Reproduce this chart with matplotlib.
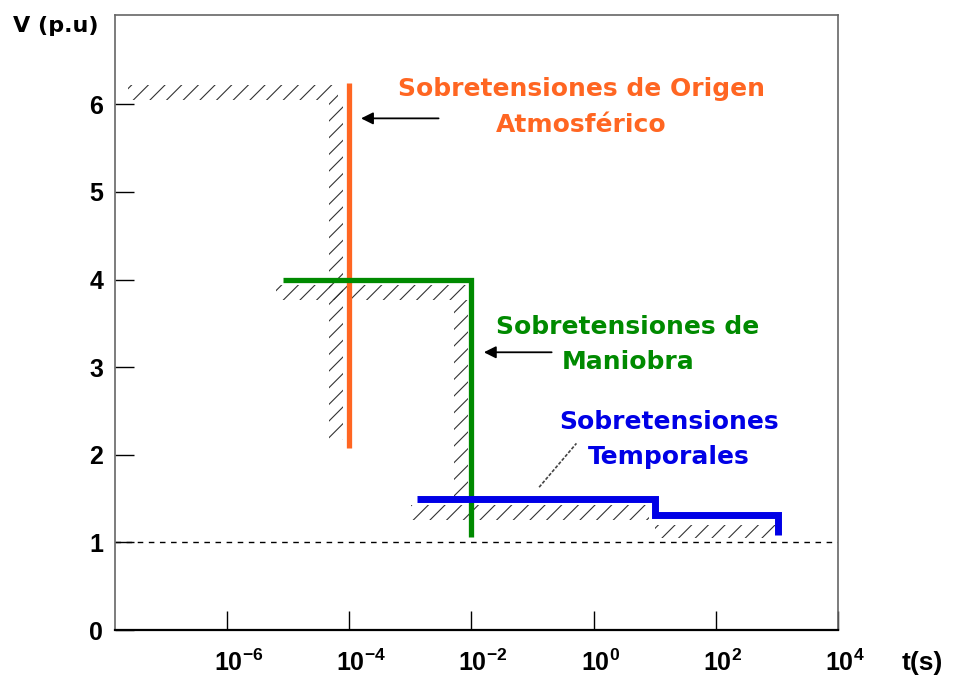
import numpy as np
import matplotlib
matplotlib.use('Agg')
import matplotlib.pyplot as plt
from matplotlib.transforms import ScaledTranslation

# overvoltage envelopes (t in s, V in p.u.)
atm_t = [1e-4, 1e-4]
atm_v = [2.08, 6.24]
man_t = [10**-5.08, 1e-2, 1e-2]
man_v = [4.0, 4.0, 1.06]
tem_t = [10**-2.89, 10**1.0, 10**1.0, 10**3.02, 10**3.02]
tem_v = [1.5, 1.5, 1.31, 1.31, 1.08]

# hatched withstand strips: (log t0, log t1, v0, v1)
hatch_strips = [
    (-7.62, -4.18, 6.05, 6.22),
    (-4.33, -4.10, 2.17, 6.05),
    (-5.19, -2.08, 3.77, 3.94),
    (-2.28, -2.05, 1.48, 3.77),
    (-2.98, 0.90, 1.26, 1.43),
    (1.00, 2.97, 1.05, 1.20),
]

xtick_exp = [-6, -4, -2, 0, 2, 4]
ytick_vals = [0, 1, 2, 3, 4, 5, 6]

orange = '#FF6622'
green = '#008A00'
blue = '#0000E6'

plt.rcParams['font.family'] = ['Liberation Sans', 'DejaVu Sans']
plt.rcParams['mathtext.fontset'] = 'custom'
plt.rcParams['mathtext.rm'] = 'Liberation Sans:bold'
plt.rcParams['mathtext.bf'] = 'Liberation Sans:bold'
plt.rcParams['hatch.linewidth'] = 0.8

fig = plt.figure(figsize=(9.54, 6.78), dpi=100)
ax = fig.add_axes([115/954, 1 - 630/678, (838 - 115)/954, (630 - 15)/678])
ax.set_xscale('log')
ax.set_xlim(10**-7.83, 1e4)
ax.set_ylim(0, 7.02)

for s in ['top', 'left', 'right']:
    ax.spines[s].set_color('#666666')
    ax.spines[s].set_linewidth(1.2)
ax.spines['bottom'].set_color('black')
ax.spines['bottom'].set_linewidth(1.6)

# hatching
for x0, x1, y0, y1 in hatch_strips:
    ax.fill_between([10**x0, 10**x1], y0, y1, facecolor='none',
                    edgecolor='#333333', hatch='//', linewidth=0)

ax.axhline(1.0, color='black', lw=1.0, dashes=(4, 4))

ax.plot(atm_t, atm_v, color=orange, lw=3.8, solid_capstyle='butt')
ax.plot(man_t, man_v, color=green, lw=3.8, solid_capstyle='butt',
        solid_joinstyle='miter')
ax.plot(tem_t, tem_v, color=blue, lw=5, solid_capstyle='butt',
        solid_joinstyle='miter')

# arrows and labels
ax.annotate('', xy=(10**-3.85, 5.84), xytext=(10**-2.49, 5.84),
            arrowprops=dict(arrowstyle='-|>', color='black', lw=1.3,
                            mutation_scale=18))
ax.annotate('', xy=(10**-1.84, 3.17), xytext=(10**-0.64, 3.17),
            arrowprops=dict(arrowstyle='-|>', color='black', lw=1.3,
                            mutation_scale=18))
ax.plot([10**-0.89, 10**-0.28], [1.63, 2.13], color='#444444', lw=1.2,
        dashes=(2, 1))

tkw = dict(ha='center', va='center', fontsize=18, fontweight='bold',
           family='DejaVu Sans')
ax.text(10**-0.2, 6.17, 'Sobretensiones de Origen', color=orange, **tkw)
ax.text(10**-0.2, 5.76, 'Atmosférico', color=orange, **tkw)
ax.text(10**0.56, 3.46, 'Sobretensiones de', color=green, **tkw)
ax.text(10**0.56, 3.06, 'Maniobra', color=green, **tkw)
ax.text(10**1.23, 2.37, 'Sobretensiones', color=blue, **tkw)
ax.text(10**1.23, 1.97, 'Temporales', color=blue, **tkw)

ax.set_yticks(ytick_vals)
ax.set_yticklabels([str(v) for v in ytick_vals], fontsize=18, fontweight='bold')
ax.set_xticks([10.0**e for e in xtick_exp])
ax.set_xticklabels([r'$\mathbf{10^{%d}}$' % e for e in xtick_exp], fontsize=18)
ax.minorticks_off()
ax.tick_params(axis='both', direction='in', length=14, width=1, color='black')
ax.tick_params(axis='y', pad=8.5)
ax.tick_params(axis='x', pad=14)
shift = ScaledTranslation(-0.13, 0, fig.dpi_scale_trans)
for lbl in ax.get_xticklabels():
    lbl.set_ha('left')
    lbl.set_transform(lbl.get_transform() + shift)

fig.text(13/954, 1 - 26/678, 'V (p.u)', fontsize=16, fontweight='bold',
         family='DejaVu Sans', va='center', ha='left')
fig.text(902/954, 1 - 663/678, 't(s)', fontsize=19, fontweight='bold',
         va='center', ha='left')

fig.savefig('out.png', dpi=100)
